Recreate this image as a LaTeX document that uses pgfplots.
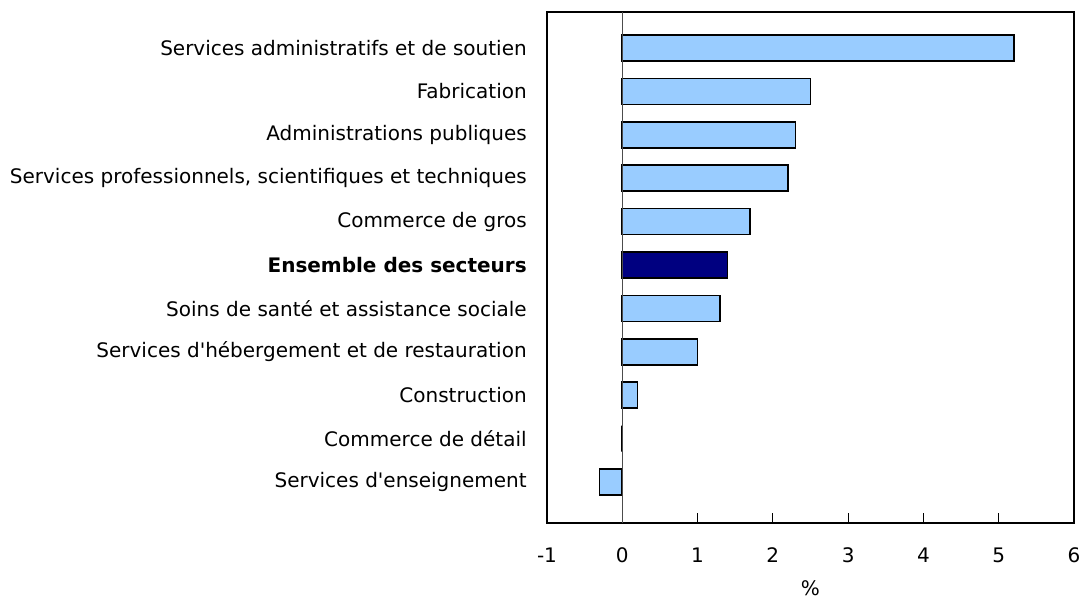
\documentclass[border=0pt]{standalone}
\usepackage{fontspec}
\setmainfont{DejaVu Sans}
\usepackage{pgfplots}
\pgfplotsset{compat=1.18}
\definecolor{lightbar}{HTML}{99CCFF}
\definecolor{darkbar}{HTML}{000080}
\begin{document}
\begin{tikzpicture}
\begin{axis}[
  at={(0,0)}, anchor=south west,
  scale only axis,
  width=395.25pt, height=383.25pt,
  xmin=-1, xmax=6, ymin=-0.945, ymax=10.83,
  xbar, bar width=0.6,
  xtick={-1,0,1,2,3,4,5,6},
  xtick pos=bottom, tick align=inside,
  major tick length=7.5pt,
  xtick style={black, line width=0.9pt},
  ytick={0,1,2,3,4,5,6,7,8,9,10},
  yticklabels={Services d\textquotesingle enseignement, Commerce de détail, Construction, Services d\textquotesingle hébergement et de restauration, Soins de santé et assistance sociale, \textbf{Ensemble des secteurs}, Commerce de gros, Services professionnels{,} scientifiques et techniques, Administrations publiques, Fabrication, Services administratifs et de soutien},
  ytick style={draw=none},
  yticklabel style={font=\fontsize{15}{18}\selectfont, inner sep=0pt, anchor=east, xshift=-15pt},
  xticklabel style={font=\fontsize{15}{18}\selectfont, inner sep=0pt, anchor=center, yshift=-24pt},
  /pgf/number format/assume math mode=true,
  axis line style={black, line width=1pt},
  xlabel={\%}, xlabel style={font=\fontsize{15}{18}\selectfont, at={(axis description cs:0.5,0)}, anchor=north, yshift=-43pt, inner sep=0pt},
]
\addplot[bar shift=0pt, fill=lightbar, draw=black, line width=1.2pt] coordinates {
  (-0.3,0) (0,1) (0.2,2) (1.0,3) (1.3,4) (1.7,6) (2.2,7) (2.3,8) (2.5,9) (5.2,10)
};
\addplot[bar shift=0pt, fill=darkbar, draw=black, line width=1.2pt] coordinates {
  (1.4,5)
};
\draw[black!70, line width=1pt] (axis cs:0,-0.945) -- (axis cs:0,10.83);
\end{axis}
\pgfresetboundingbox
\path[use as bounding box] (-410.25pt,-59.25pt) rectangle (400.5pt,392.25pt);
\end{tikzpicture}
\end{document}
